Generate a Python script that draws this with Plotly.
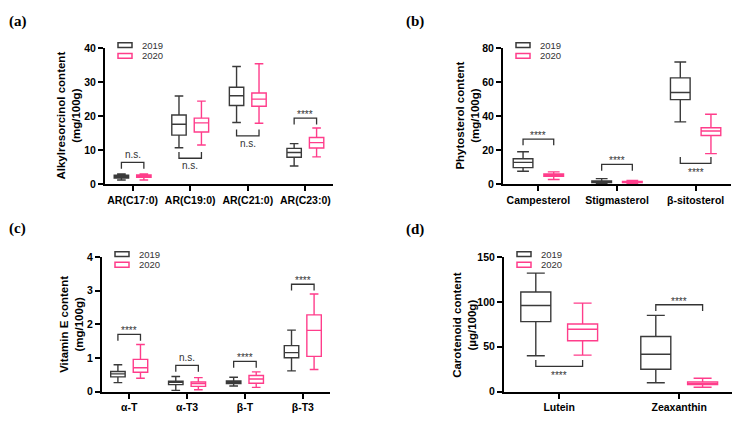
import plotly.graph_objects as go

# ---------------- data ----------------
# Panel (a) Alkylresorcinols, mg/100g
a_cats = ["AR(C17:0)", "AR(C19:0)", "AR(C21:0)", "AR(C23:0)"]
a19_lf = [1.2, 10.7, 18.1, 5.3]
a19_q1 = [1.8, 14.4, 23.1, 7.9]
a19_med = [2.2, 17.6, 26.0, 9.3]
a19_q3 = [2.6, 20.3, 28.5, 10.5]
a19_uf = [3.0, 25.9, 34.6, 11.9]
a20_lf = [1.2, 11.5, 17.9, 8.0]
a20_q1 = [2.0, 15.3, 22.9, 10.6]
a20_med = [2.4, 18.0, 25.0, 12.2]
a20_q3 = [2.7, 19.4, 26.8, 13.7]
a20_uf = [3.0, 24.4, 35.4, 16.5]
a_sig = ["n.s.", "n.s.", "n.s.", "****"]
a_side = ["above", "below", "below", "above"]
a_level = [6.4, 7.6, 14.2, 19.4]
a_yticks = [0, 10, 20, 30, 40]

# Panel (b) Phytosterols, mg/100g
b_cats = ["Campesterol", "Stigmasterol", "β-sitosterol"]
b19_lf = [7.6, 0.3, 36.6]
b19_q1 = [9.7, 0.9, 49.7]
b19_med = [12.8, 1.3, 53.9]
b19_q3 = [14.9, 1.8, 62.5]
b19_uf = [19.0, 3.2, 71.8]
b20_lf = [2.7, 0.4, 17.9]
b20_q1 = [4.6, 0.9, 28.6]
b20_med = [5.1, 1.1, 31.2]
b20_q3 = [5.9, 1.5, 33.1]
b20_uf = [7.2, 2.1, 41.1]
b_sig = ["****", "****", "****"]
b_side = ["above", "above", "below"]
b_level = [26.5, 11.6, 12.2]
b_yticks = [0, 20, 40, 60, 80]

# Panel (c) Vitamin E, mg/100g
c_cats = ["α-T", "α-T3", "β-T", "β-T3"]
c19_lf = [0.27, 0.04, 0.17, 0.62]
c19_q1 = [0.44, 0.21, 0.24, 1.01]
c19_med = [0.53, 0.28, 0.28, 1.16]
c19_q3 = [0.60, 0.31, 0.32, 1.37]
c19_uf = [0.80, 0.45, 0.43, 1.83]
c20_lf = [0.40, 0.06, 0.13, 0.66]
c20_q1 = [0.58, 0.16, 0.25, 1.05]
c20_med = [0.71, 0.24, 0.38, 1.82]
c20_q3 = [0.96, 0.29, 0.48, 2.28]
c20_uf = [1.40, 0.42, 0.59, 2.90]
c_sig = ["****", "n.s.", "****", "****"]
c_side = ["above", "above", "above", "above"]
c_level = [1.70, 0.78, 0.90, 3.19]
c_yticks = [0, 1, 2, 3, 4]

# Panel (d) Carotenoids, µg/100g
d_cats = ["Lutein", "Zeaxanthin"]
d19_lf = [40.0, 10.0]
d19_q1 = [78.0, 25.0]
d19_med = [96.0, 41.8]
d19_q3 = [111.0, 61.4]
d19_uf = [132.0, 85.0]
d20_lf = [40.7, 5.0]
d20_q1 = [56.8, 7.9]
d20_med = [69.6, 9.3]
d20_q3 = [75.4, 11.0]
d20_uf = [98.6, 15.0]
d_sig = ["****", "****"]
d_side = ["below", "above"]
d_level = [28.2, 96.8]
d_yticks = [0, 50, 100, 150]

years = ["2019", "2020"]

# ---------------- style / layout ----------------
W, H = 738, 423
COL = {"2019": "#3a3a3a", "2020": "#ff3d8b"}
OFF = 0.195        # half distance between the two boxes of a category (category units)
BOXW = 0.25        # box width (category units)
SANS = "Liberation Sans, Arial, sans-serif"
LEG_PX = 6.5       # bracket leg length in pixels

panels = [
    dict(label="(a)", cats=a_cats,
         s19=(a19_lf, a19_q1, a19_med, a19_q3, a19_uf),
         s20=(a20_lf, a20_q1, a20_med, a20_q3, a20_uf),
         sig=a_sig, side=a_side, level=a_level, yticks=a_yticks,
         ytitle="Alkylresorcinol content<br>(mg/100g)",
         px=(105, 333), py=(43.3, 183.3), xr=[-0.48, 3.48], tx=68.5, lab=(7, 16)),
    dict(label="(b)", cats=b_cats,
         s19=(b19_lf, b19_q1, b19_med, b19_q3, b19_uf),
         s20=(b20_lf, b20_q1, b20_med, b20_q3, b20_uf),
         sig=b_sig, side=b_side, level=b_level, yticks=b_yticks,
         ytitle="Phytosterol content<br>(mg/100g)",
         px=(503, 731), py=(43.3, 183.3), xr=[-0.45, 2.45], tx=467.5, lab=(404, 16)),
    dict(label="(c)", cats=c_cats,
         s19=(c19_lf, c19_q1, c19_med, c19_q3, c19_uf),
         s20=(c20_lf, c20_q1, c20_med, c20_q3, c20_uf),
         sig=c_sig, side=c_side, level=c_level, yticks=c_yticks,
         ytitle="Vitamin E content<br>(mg/100g)",
         px=(102, 330), py=(258.3, 397), xr=[-0.47, 3.47], tx=71.5, lab=(7, 229)),
    dict(label="(d)", cats=d_cats,
         s19=(d19_lf, d19_q1, d19_med, d19_q3, d19_uf),
         s20=(d20_lf, d20_q1, d20_med, d20_q3, d20_uf),
         sig=d_sig, side=d_side, level=d_level, yticks=d_yticks,
         ytitle="Carotenoid content<br>(µg/100g)",
         px=(504, 732), py=(258.3, 397), xr=[-0.46, 1.44], tx=464.5, lab=(404, 230)),
]


def fx(p):
    return p / W


def fy(p):
    return 1 - p / H


fig = go.Figure()
shapes = []
annotations = []
layout_axes = {}

for i, p in enumerate(panels, start=1):
    xa = "x" if i == 1 else f"x{i}"
    ya = "y" if i == 1 else f"y{i}"
    xkey = "xaxis" if i == 1 else f"xaxis{i}"
    ykey = "yaxis" if i == 1 else f"yaxis{i}"
    ymax = max(p["yticks"])
    idx = list(range(len(p["cats"])))

    for yr, s, sgn in zip(years, (p["s19"], p["s20"]), (-1, 1)):
        lf, q1, med, q3, uf = s
        fig.add_trace(go.Box(
            x=[k + sgn * OFF for k in idx], lowerfence=lf, q1=q1, median=med, q3=q3,
            upperfence=uf, width=BOXW,
            name=yr, xaxis=xa, yaxis=ya, showlegend=False,
            line=dict(color=COL[yr], width=1.4), fillcolor="rgba(255,255,255,0)",
            whiskerwidth=0.6, hoverinfo="skip", boxpoints=False,
        ))

    layout_axes[xkey] = dict(
        domain=[fx(p["px"][0]), fx(p["px"][1])], anchor=ya, type="linear",
        range=p["xr"], tickvals=idx, ticktext=p["cats"],
        showline=True, linecolor="black", linewidth=2,
        ticks="outside", ticklen=5, tickwidth=2, tickcolor="black",
        tickfont=dict(family=SANS, size=10.5, color="black", weight="bold"),
        showgrid=False, zeroline=False, fixedrange=True,
    )
    layout_axes[ykey] = dict(
        domain=[fy(p["py"][1]), fy(p["py"][0])], anchor=xa,
        range=[0, ymax], tickvals=p["yticks"], showline=True, linecolor="black",
        linewidth=2, ticks="outside", ticklen=5, tickwidth=2, tickcolor="black",
        tickfont=dict(family=SANS, size=10.5, color="black", weight="bold"),
        showgrid=False, zeroline=False, fixedrange=True,
    )

    # significance brackets
    plot_h = p["py"][1] - p["py"][0]
    leg = LEG_PX / plot_h * ymax
    for k, (sig, side, lvl) in enumerate(zip(p["sig"], p["side"], p["level"])):
        x0, x1 = k - OFF, k + OFF
        yl = lvl - leg if side == "above" else lvl + leg
        shapes.append(dict(
            type="path", xref=xa, yref=ya,
            path=f"M {x0},{yl} L {x0},{lvl} L {x1},{lvl} L {x1},{yl}",
            line=dict(color="#333333", width=1.3),
        ))
        star = sig.startswith("*")
        if side == "above":
            annotations.append(dict(
                x=k, y=lvl, xref=xa, yref=ya, text=sig, showarrow=False,
                yanchor="bottom", yshift=-4 if star else 0,
                font=dict(family=SANS, size=10, color="#333333"),
            ))
        else:
            annotations.append(dict(
                x=k, y=lvl, xref=xa, yref=ya, text=sig, showarrow=False,
                yanchor="top", yshift=-2 if star else 0,
                font=dict(family=SANS, size=10, color="#333333"),
            ))

    # y-axis title
    annotations.append(dict(
        x=fx(p["tx"]), y=fy((p["py"][0] + p["py"][1]) / 2), xref="paper", yref="paper",
        text=p["ytitle"], textangle=-90, showarrow=False, xanchor="center", yanchor="middle",
        font=dict(family=SANS, size=11.5, color="black", weight="bold"),
    ))

    # panel label
    annotations.append(dict(
        x=fx(p["lab"][0]), y=fy(p["lab"][1]), xref="paper", yref="paper",
        text=p["label"], showarrow=False, xanchor="left", yanchor="middle",
        font=dict(family="Liberation Serif, Times New Roman, serif", size=15,
                  color="black", weight="bold"),
    ))

    # legend (drawn manually)
    ax0 = p["px"][0]
    top = p["py"][0]
    for r, yr in enumerate(years):
        cy = top - 3 + 11 * r
        shapes.append(dict(
            type="rect", xref="paper", yref="paper",
            x0=fx(ax0 + 13), x1=fx(ax0 + 27), y0=fy(cy + 2.5), y1=fy(cy - 2.5),
            line=dict(color=COL[yr], width=1.5), fillcolor="white",
        ))
        annotations.append(dict(
            x=fx(ax0 + 35), y=fy(cy), xref="paper", yref="paper", text=yr,
            showarrow=False, xanchor="left", yanchor="middle",
            font=dict(family=SANS, size=9.5, color="#333333"),
        ))

fig.update_layout(
    width=W, height=H, autosize=False,
    margin=dict(l=0, r=0, t=0, b=0),
    paper_bgcolor="white", plot_bgcolor="white",
    boxmode="overlay",
    shapes=shapes, annotations=annotations, showlegend=False,
    **layout_axes,
)

fig.write_html("out.html")
